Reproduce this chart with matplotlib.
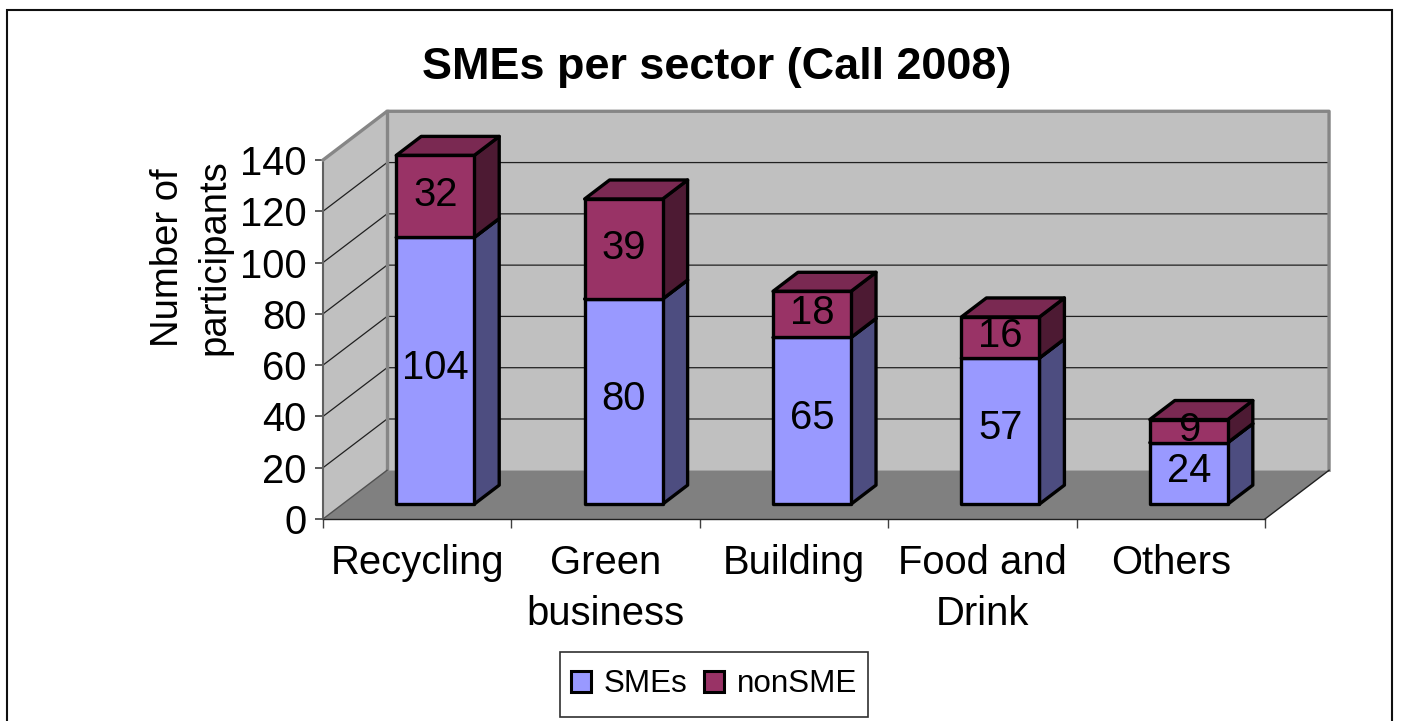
import matplotlib
matplotlib.use('Agg')
import matplotlib.pyplot as plt
from matplotlib.patches import Polygon, Patch, Rectangle

plt.rcParams['font.family'] = ['Liberation Sans', 'DejaVu Sans']

categories = ['Recycling', 'Green\nbusiness', 'Building', 'Food and\nDrink', 'Others']
smes = [104, 80, 65, 57, 24]
non_sme = [32, 39, 18, 16, 9]
y_ticks = [0, 20, 40, 60, 80, 100, 120, 140]

W, H = 1401, 721
# fake 3D: depth is a shear in data units
DX, DY = 0.34, 19.0
BAR_W = 0.414
D0, D1 = 0.305, 0.695
FS = 28.8


def proj(x, v, d=0):
    return (x + d * DX, v + d * DY)


def box(ax, x0, x1, v0, v1, front, top, side, z):
    pts_front = [proj(x0, v0, D0), proj(x1, v0, D0), proj(x1, v1, D0), proj(x0, v1, D0)]
    pts_side = [proj(x1, v0, D0), proj(x1, v0, D1), proj(x1, v1, D1), proj(x1, v1, D0)]
    pts_top = [proj(x0, v1, D0), proj(x1, v1, D0), proj(x1, v1, D1), proj(x0, v1, D1)]
    for pts, col in ((pts_side, side), (pts_top, top), (pts_front, front)):
        ax.add_patch(Polygon(pts, closed=True, fc=col, ec='black', lw=2.4, zorder=z,
                             joinstyle='round', clip_on=False))


fig = plt.figure(figsize=(W / 100, H / 100), dpi=100, facecolor='white')
ax = fig.add_axes([323 / W, 1 - 519 / H, 942 / W, 359 / H])
ax.set_xlim(0, len(categories))
ax.set_ylim(0, 140)
ax.patch.set_visible(False)
for s in ('top', 'right'):
    ax.spines[s].set_visible(False)
ax.spines['left'].set_color('#606060')
ax.spines['left'].set_linewidth(1.5)
ax.spines['bottom'].set_color('#202020')
ax.spines['bottom'].set_linewidth(1.0)

n = len(categories)
# walls and floor
wall = '#c0c0c0'
edge = '#868686'
ax.add_patch(Polygon([proj(0, 0), proj(0, 0, 1), proj(0, 140, 1), proj(0, 140)], fc=wall, ec=edge,
                     lw=0, zorder=1, clip_on=False))
ax.add_patch(Polygon([proj(0, 0, 1), proj(n, 0, 1), proj(n, 140, 1), proj(0, 140, 1)], fc=wall, ec=edge,
                     lw=0, zorder=1, clip_on=False))
ax.add_patch(Polygon([proj(0, 0), proj(n, 0), proj(n, 0, 1), proj(0, 0, 1)], fc='#808080', ec='none',
                     zorder=1, clip_on=False))
# gridlines on side and back wall
for v in y_ticks[1:-1]:
    a, b, c = proj(0, v), proj(0, v, 1), proj(n, v, 1)
    ax.plot([a[0], b[0], c[0]], [a[1], b[1], c[1]], color='#202020', lw=0.9, zorder=2, clip_on=False)
# wall borders
a, b, c, d = proj(0, 140), proj(0, 140, 1), proj(n, 140, 1), proj(n, 0, 1)
ax.plot([a[0], b[0], c[0], d[0]], [a[1], b[1], c[1], d[1]], color=edge, lw=2.4, zorder=3, clip_on=False)
e = proj(0, 0, 1)
ax.plot([e[0], b[0]], [e[1], b[1]], color=edge, lw=2.4, zorder=3, clip_on=False)
f, g = proj(n, 0), proj(n, 0, 1)
ax.plot([f[0], g[0]], [f[1], g[1]], color='#202020', lw=1.0, zorder=3, clip_on=False)
h = proj(0, 0)
ax.plot([h[0], e[0]], [h[1], e[1]], color='#505050', lw=1.0, zorder=3, clip_on=False)

# bars
for i in range(n):
    x0 = i + (1 - BAR_W) / 2 - 0.008
    x1 = x0 + BAR_W
    box(ax, x0, x1, 0, smes[i], '#9999ff', '#7a7acc', '#4d4d80', 4)
    box(ax, x0, x1, smes[i], smes[i] + non_sme[i], '#993366', '#7a2952', '#4d1a33', 5)
    cx = (x0 + x1) / 2 + D0 * DX
    ax.text(cx, smes[i] / 2 + D0 * DY + 1, str(smes[i]), ha='center', va='center', fontsize=FS, zorder=6)
    ax.text(cx, smes[i] + non_sme[i] / 2 + D0 * DY + 0.4, str(non_sme[i]), ha='center', va='center',
            fontsize=FS, zorder=6)

ax.set_yticks(y_ticks)
ax.set_xticks(range(n + 1))
ax.set_xticklabels([])
ax.tick_params(axis='y', length=6, width=1.2, color='#404040', pad=6, labelsize=FS)
ax.tick_params(axis='x', length=6.5, width=1, color='#404040')
for i, c_name in enumerate(categories):
    ax.text(i + 0.5, -9.9, c_name, ha='center', va='top', fontsize=FS, linespacing=1.42, clip_on=False)

ax.text(-0.7, 102, 'Number of\nparticipants', rotation=90, ha='center', va='center', fontsize=27.5,
        linespacing=1.36, clip_on=False)

fig.text(717 / W, 1 - 68 / H, 'SMEs per sector (Call 2008)', ha='center', va='center', fontsize=32.4,
         fontweight='bold')

# legend box drawn apart so its height can differ from the legend's padding
fig.add_artist(Rectangle((560 / W, 1 - 717 / H), 308 / W, 65 / H, transform=fig.transFigure, fc='white',
                         ec='#303030', lw=1.2, zorder=5))
handles = [Patch(fc='#9999ff', ec='black', lw=2.2), Patch(fc='#993366', ec='black', lw=2.2)]
leg = fig.legend(handles, ['SMEs', 'nonSME'], loc='center', bbox_to_anchor=(714 / W, 1 - 684.5 / H), ncol=2,
                 fontsize=22.6, frameon=False, handlelength=0.65, handleheight=0.65, handletextpad=0.42,
                 columnspacing=0.5, borderpad=0.4, borderaxespad=0)
leg.set_zorder(6)

# outer frame, runs off the bottom of the image
fig.add_artist(Rectangle((7 / W, -10 / H), 1385 / W, (H + 10 - 10) / H, transform=fig.transFigure, fill=False,
                         ec='#101010', lw=1.5))

fig.savefig('out.png', dpi=100)
